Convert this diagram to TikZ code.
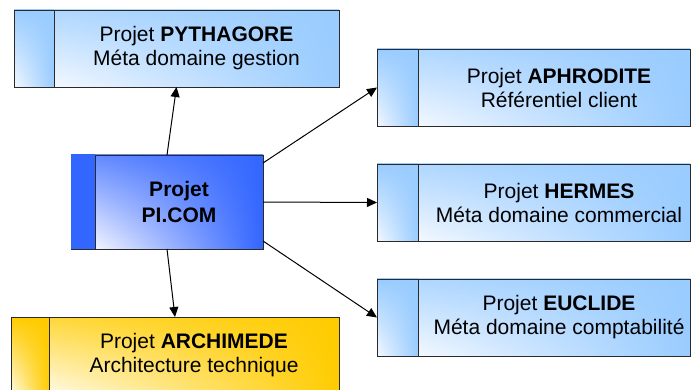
\documentclass[tikz,border=0pt]{standalone}
\usepackage{fontspec}
\setmainfont{Liberation Sans}
\usetikzlibrary{arrows.meta,calc,fadings}
\definecolor{lblue}{HTML}{99CCFF}
\definecolor{lbluelight}{HTML}{F4F9FF}
\definecolor{dblue}{HTML}{3366FF}
\definecolor{dbluelight}{HTML}{F4F6FF}
\definecolor{gold}{HTML}{FFCC00}
\definecolor{goldlight}{HTML}{FFFBE8}
\definecolor{bordercol}{HTML}{2A2A2A}
\tikzfading[name=growright, left color=transparent!100, right color=transparent!0]
\tikzset{
  pbox/.style n args={5}{draw=bordercol, line width=0.8pt, inner sep=0pt, outer sep=0pt,
    anchor=north west, minimum width=#1, minimum height=#2, fill=white,
    path picture={
      \shade[top color=#3, bottom color=#4]
        (path picture bounding box.north west) rectangle ([xshift=#5]path picture bounding box.south west);
      \fill[#3, path fading=growright]
        (path picture bounding box.north west) rectangle ([xshift=#5]path picture bounding box.south west);
      \shade[top color=#3!75!#4, bottom color=#4]
        ([xshift=#5]path picture bounding box.north west) rectangle (path picture bounding box.south east);
      \fill[#3, path fading=growright]
        ([xshift=#5]path picture bounding box.north west) rectangle (path picture bounding box.south east);
      \draw[line width=0.8pt, bordercol] ([xshift=#5]path picture bounding box.north west)
        -- ([xshift=#5]path picture bounding box.south west);
    }},
  bluebox/.style 2 args={pbox={#1}{77pt}{lblue}{lbluelight}{#2}},
  ptext/.style={align=center, inner sep=0pt, font=\fontsize{21}{24}\selectfont},
  conn/.style={line width=1pt, -{Triangle[length=10pt,width=9pt]}}
}
\begin{document}
\begin{tikzpicture}[x=1pt,y=-1pt]
\useasboundingbox (0,0) rectangle (691,390);
\clip (0,0) rectangle (691,390);
% boxes
\node[bluebox={325pt}{40pt}] (pyth) at (14,10) {};
\node[bluebox={313pt}{41pt}] (aphro) at (377,49) {};
\node[bluebox={313pt}{41pt}] (hermes) at (377,164) {};
\node[bluebox={313pt}{41pt}] (euclide) at (377,279) {};
\node[pbox={192pt}{94pt}{dblue}{dbluelight}{24pt}] (pi) at (71,155) {};
\fill[dblue] ([xshift=0.4pt,yshift=-0.4pt]pi.north west) rectangle ([xshift=23.6pt,yshift=0.4pt]pi.south west);
\node[pbox={328pt}{77pt}{gold}{goldlight}{38pt}] (arch) at (11,317) {};
% texts
\node[ptext] (tpyth) at (196.5,48.5) {Projet \textbf{PYTHAGORE}\\Méta domaine gestion};
\node[ptext] (taphro) at (559,87.5) {Projet \textbf{APHRODITE}\\Référentiel client};
\node[ptext] (thermes) at (559,202.5) {Projet \textbf{HERMES}\\Méta domaine commercial};
\node[ptext] (teuclide) at (559,317.5) {Projet \textbf{EUCLIDE}\\Méta domaine comptabilité};
\node[ptext, font=\fontsize{21}{26}\selectfont\bfseries] (tpi) at (179,202) {Projet\\PI.COM};
\node[ptext] (tarch) at (194,355.5) {Projet \textbf{ARCHIMEDE}\\Architecture technique};
% connectors
\draw[conn] (pi.north) -- (pyth.south);
\draw[conn] (pi.south) -- (arch.north);
\draw[conn] ([yshift=-8pt]pi.north east) -- (aphro.west);
\draw[conn] (pi.east) -- (hermes.west);
\draw[conn] ([yshift=8pt]pi.south east) -- (euclide.west);
\end{tikzpicture}
\end{document}
